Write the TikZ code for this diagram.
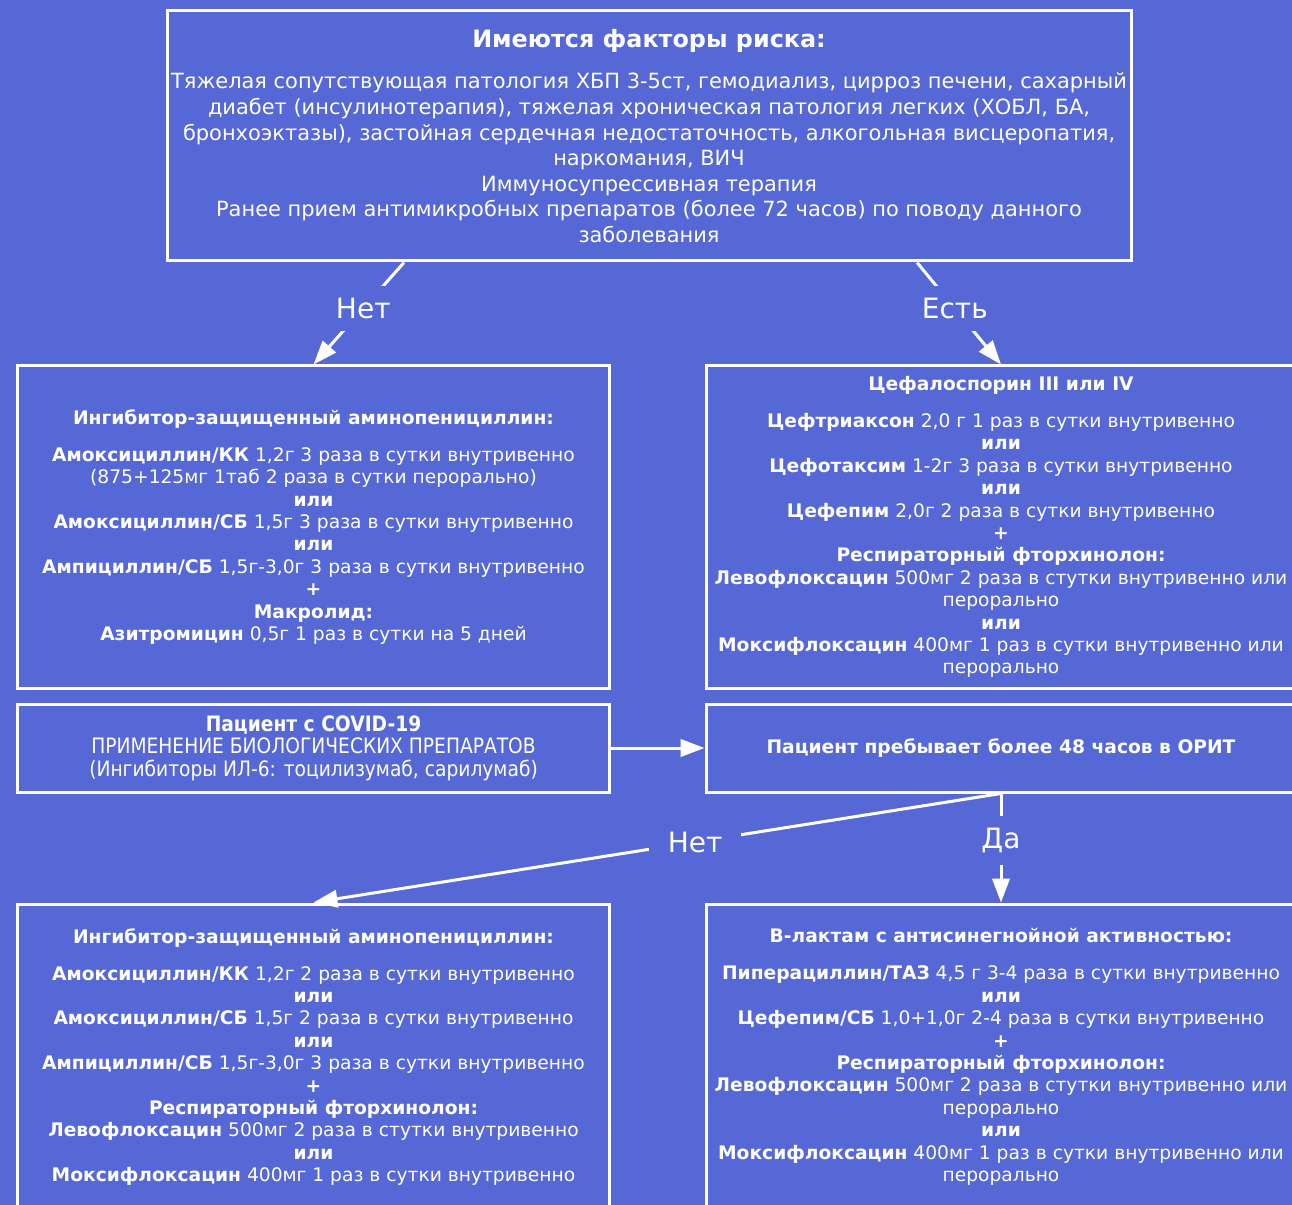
\documentclass[tikz,border=0pt]{standalone}
\usepackage{fontspec}
\setmainfont{DejaVu Sans}
\newfontfamily\condfont[FakeStretch=0.88]{DejaVu Sans}
\usetikzlibrary{positioning, arrows.meta, calc}
\definecolor{bgblue}{HTML}{5568D6}

\begin{document}
\begin{tikzpicture}[
    x=0.75pt, y=-0.75pt,
    >={Triangle[length=18pt, width=13pt]},
    box/.style={rectangle, draw=white, line width=2.25pt, text=white, align=center,
        minimum width=444.5pt, minimum height=241.5pt, inner sep=0pt,
        font=\fontsize{14}{16.8}\selectfont},
    arr/.style={->, draw=white, line width=2.25pt},
    lbl/.style={fill=bgblue, text=white, inner xsep=14pt, inner ysep=9pt,
        font=\fontsize{21}{25}\selectfont}
]
\useasboundingbox (0,0) rectangle (1292,1205);
\clip (0,0) rectangle (1292,1205);
\fill[bgblue] (0,0) rectangle (1292,1205);

% risk factors
\node[box, minimum width=723pt, minimum height=187.5pt, font=\fontsize{15.7}{19.2}\selectfont] (risk) at (649,136)
{{\fontsize{17.9}{20}\selectfont\bfseries Имеются факторы риска:}\\[12pt]
Тяжелая сопутствующая патология ХБП 3-5ст, гемодиализ, цирроз печени, сахарный\\
диабет (инсулинотерапия), тяжелая хроническая патология легких (ХОБЛ, БА,\\
бронхоэктазы), застойная сердечная недостаточность, алкогольная висцеропатия,\\
наркомания, ВИЧ\\
Иммуносупрессивная терапия\\
Ранее прием антимикробных препаратов (более 72 часов) по поводу данного\\
заболевания};

% first row of schemes
\node[box] (amino) at (313.5,527)
{\textbf{Ингибитор-защищенный аминопенициллин:}\\[11pt]
\textbf{Амоксициллин/КК} 1,2г 3 раза в сутки внутривенно\\
(875+125мг 1таб 2 раза в сутки перорально)\\
\textbf{или}\\
\textbf{Амоксициллин/СБ} 1,5г 3 раза в сутки внутривенно\\
\textbf{или}\\
\textbf{Ампициллин/СБ} 1,5г-3,0г 3 раза в сутки внутривенно\\
\textbf{+}\\
\textbf{Макролид:}\\
\textbf{Азитромицин} 0,5г 1 раз в сутки на 5 дней};

\node[box, minimum width=442.5pt] (cef) at (1001,527)
{\textbf{Цефалоспорин III или IV}\\[11pt]
\textbf{Цефтриаксон} 2,0 г 1 раз в сутки внутривенно\\
\textbf{или}\\
\textbf{Цефотаксим} 1-2г 3 раза в сутки внутривенно\\
\textbf{или}\\
\textbf{Цефепим} 2,0г 2 раза в сутки внутривенно\\
\textbf{+}\\
\textbf{Респираторный фторхинолон:}\\
\textbf{Левофлоксацин} 500мг 2 раза в стутки внутривенно или\\
перорально\\
\textbf{или}\\
\textbf{Моксифлоксацин} 400мг 1 раз в сутки внутривенно или\\
перорально};

% middle row
\node[box, minimum height=66pt, font=\condfont\fontsize{15.9}{16.9}\selectfont] (covid) at (313.5,748)
{\textbf{Пациент с COVID-19}\\
ПРИМЕНЕНИЕ БИОЛОГИЧЕСКИХ ПРЕПАРАТОВ\\
(Ингибиторы ИЛ-6: тоцилизумаб, сарилумаб)};

\node[box, minimum width=442.5pt, minimum height=66pt] (icu) at (1001,748)
{\textbf{Пациент пребывает более 48 часов в ОРИТ}};

% second row of schemes
\node[box, minimum height=229.5pt] (amino2) at (313.5,1057)
{\textbf{Ингибитор-защищенный аминопенициллин:}\\[11pt]
\textbf{Амоксициллин/КК} 1,2г 2 раза в сутки внутривенно\\
\textbf{или}\\
\textbf{Амоксициллин/СБ} 1,5г 2 раза в сутки внутривенно\\
\textbf{или}\\
\textbf{Ампициллин/СБ} 1,5г-3,0г 3 раза в сутки внутривенно\\
\textbf{+}\\
\textbf{Респираторный фторхинолон:}\\
\textbf{Левофлоксацин} 500мг 2 раза в стутки внутривенно\\
\textbf{или}\\
\textbf{Моксифлоксацин} 400мг 1 раз в сутки внутривенно};

\node[box, minimum width=442.5pt, minimum height=229.5pt] (blact) at (1001,1057)
{\textbf{В-лактам с антисинегнойной активностью:}\\[11pt]
\textbf{Пиперациллин/ТАЗ} 4,5 г 3-4 раза в сутки внутривенно\\
\textbf{или}\\
\textbf{Цефепим/СБ} 1,0+1,0г 2-4 раза в сутки внутривенно\\
\textbf{+}\\
\textbf{Респираторный фторхинолон:}\\
\textbf{Левофлоксацин} 500мг 2 раза в стутки внутривенно или\\
перорально\\
\textbf{или}\\
\textbf{Моксифлоксацин} 400мг 1 раз в сутки внутривенно или\\
перорально};

% connectors
\draw[arr] ($(risk.south)+(-245,0)$) -- node[lbl, pos=0.45] {Нет} (amino.north);
\draw[arr] ($(risk.south)+(268,0)$) -- node[lbl, pos=0.45] {Есть} (cef.north);
\draw[arr] (covid.east) -- (icu.west);
\draw[arr] (icu.south) -- node[lbl, pos=0.445] {Нет} (amino2.north);
\draw[arr] (icu.south) -- node[lbl, pos=0.43] {Да} (blact.north);

\end{tikzpicture}
\end{document}
